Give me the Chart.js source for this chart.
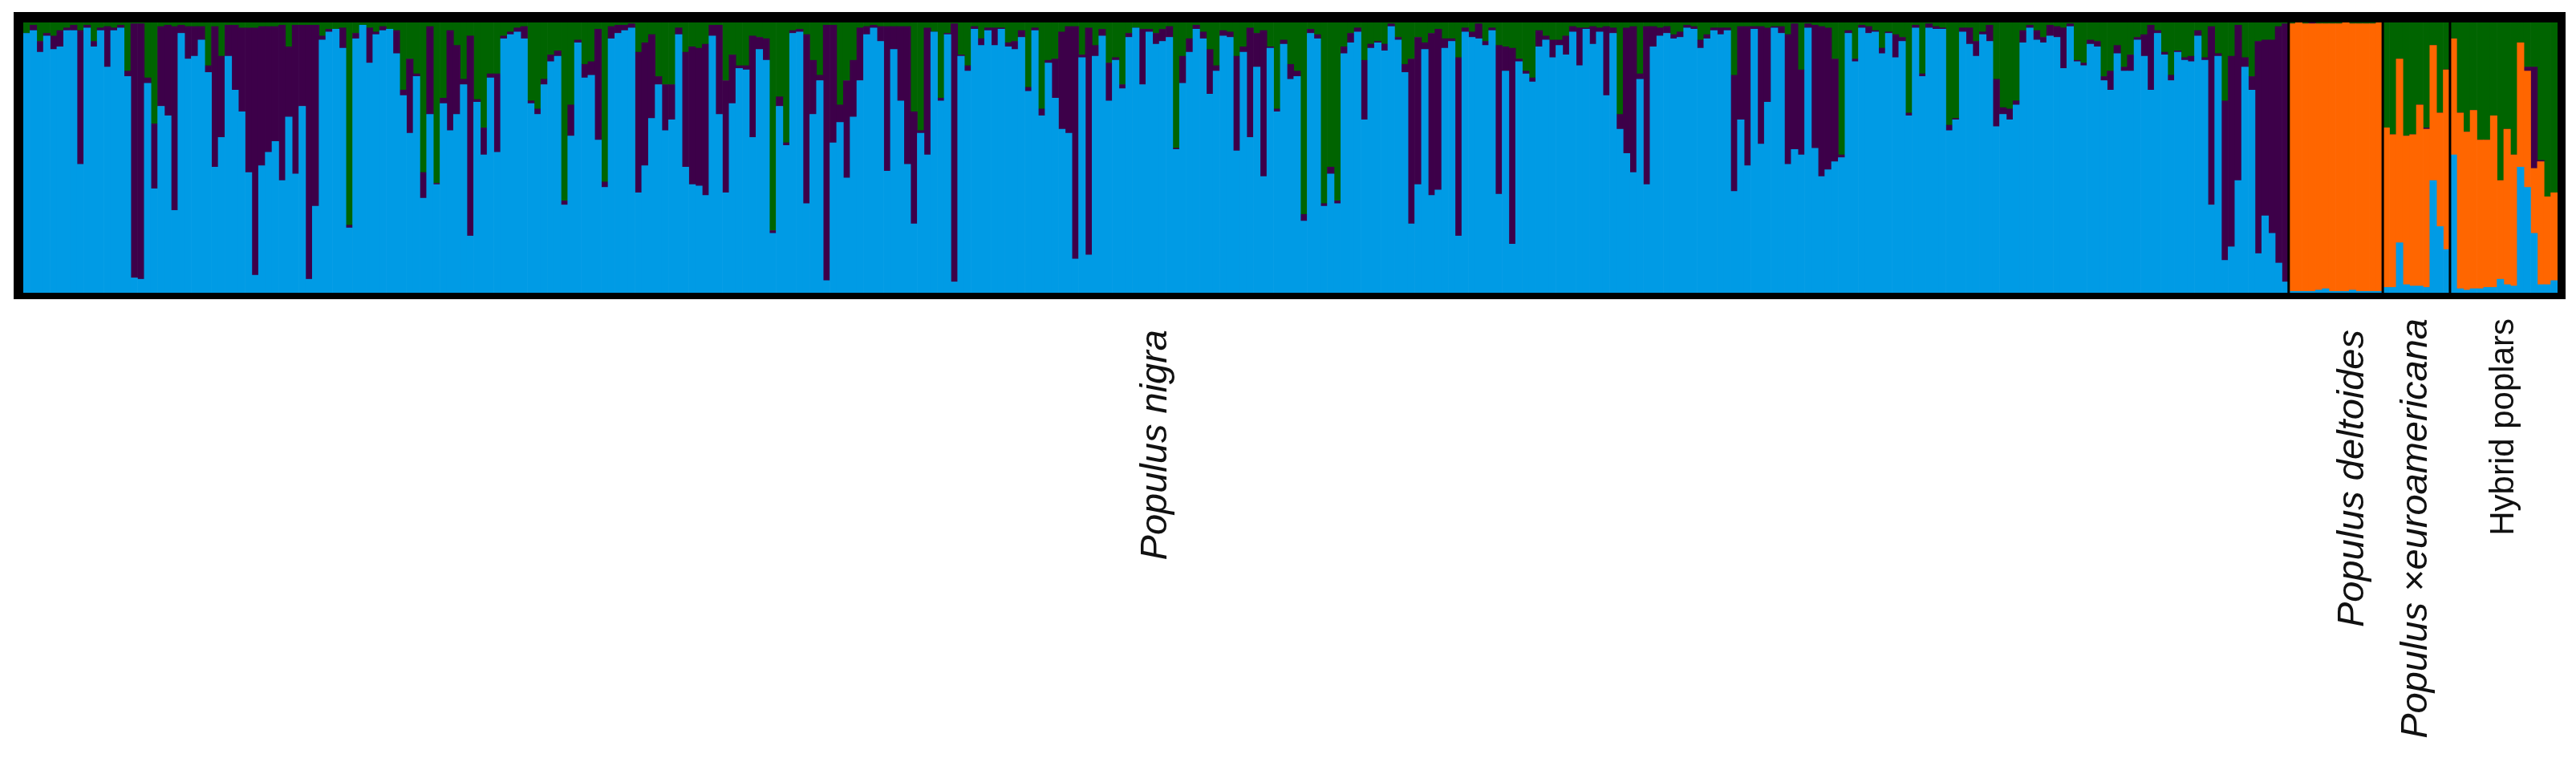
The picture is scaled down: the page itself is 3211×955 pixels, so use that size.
<!DOCTYPE html>
<html lang="en">
<head>
  <title>STRUCTURE plot - Populus</title>
  <script src="https://cdn.jsdelivr.net/npm/chart.js@4.4.0/dist/chart.umd.min.js"></script>
  <style>
    body { margin: 0; background: #fff; }
    canvas { display: block; }
  </style>
</head>
<body>
  <canvas id="structureChart" width="3211" height="955"></canvas>

  <script>
    // membership (%) per individual, left to right
    // cluster colours: blue (P. nigra), orange (P. deltoides), purple, green
    const nigraBlue = [
      96,97,89,95,90,91,97,97,47.5,98,91,97,83.5,97,98,80,5.5,5,77.5,38.5,69,65.5,30.5,96,86.5,87.5,93.5,81.5,46.5,57.5,87.5,75,67,44.5,6.5,47,52,56,41.5,65,44,69,5,32,
      93.5,96.5,97.5,90.5,24,94,99,85,95.5,97,97.5,88.5,73,59,80,35,66,40,70,60,66,77,21,70.5,51,79.5,52,94,95.5,96.5,94,70,66,77,85.5,87.5,32.5,58,92.5,79.5,80.5,
      56.5,39,94,96,97,98,37,47,64.5,77,60,64,95.5,46.5,40,39.5,36,95,66,37,70,83,82.5,57.5,90,86,22,69,54.5,96,96.5,33,66,78.5,4.5,55.5,63,42.5,65,78.5,95.5,
      98,93,45,90,71,47.5,25.5,59,51,96.5,71,95.5,4,87.5,82,97.5,91.5,97,91.5,97.5,91,90,94.5,74.5,97,65.5,85,72,60.5,59,12.5,87,14,87.5,95,71,86,75.5,94.5,98,
      77,96.5,92,93,94.5,53,77.5,89,97.5,94,73.5,82,95,94.5,52.5,89,57.5,83.5,43,90.5,67,92,79,80,26.5,96,94,32,44,33,88.5,92.5,96.5,64,90.5,92.5,89.5,98.5,93.5,81.5,25.5,
      40,90,36,38,90.5,93,21,96.5,94.5,94,91.5,97,36.5,82,18,85.5,81,78,91,93.5,87,91.5,88,96.5,84,97.5,92,96.5,73,96,60.5,51.5,44.5,79,40,91,95,96,94,94.5,
      98,97.5,90.5,94,97,95.5,97,37.5,64,47,97.5,55,70.5,98,96,47.5,53,51,98,53.5,43,45.5,48.5,50,96,85.5,98,96,96.5,88.5,96,87,93,65.5,98,80,98,97.5,97.5,60,64,
      96.5,92,87.5,95.5,93,61.5,66,64,69.5,92.5,98,93.5,92.5,95,94.5,83,98.5,85.5,84,92,91,78.5,75,88.5,82,82,93.5,87.5,75,96,88,78.5,89,86,85.5,95,86,32.5,87.5,
      12,17,41.5,83.5,75,14.5,28.5,22,11,4
    ];
    const nigraPurple = [
      0,2,4,1,5,6,1,2,49.5,1,2,1,15,1,1,2,94,94.5,2,24,29.5,33.5,68,3,12,11,5,2.5,52,30,11.5,24,31,53.5,91.5,51.5,46.5,42.5,57.5,26,55,30,94,67,
      1.5,1,0,7.5,1,2,0,13,1,1.5,0,8.5,2,27.5,1,9.5,32.5,0.5,2,37,25.5,2,74,1,10,1.5,29,1,1,1.5,4.5,1,2,2,2.5,2,1.5,11.5,1,5,5,
      41,2,4.5,3,2,1.5,52,45.5,31,3,17,13,2.5,42.5,51,51,56,4,33,41.5,18,1,1.5,37.5,4.5,8,1,3.5,1,1,1,62.5,20,2,94.5,43.5,6.5,36,21,19.5,3,
      1,5.5,53.5,8.5,27.5,51,41.5,1,47,0,1,0.5,95.5,0.5,2,1,2.5,1,6.5,0.5,1.5,3,2.5,1.5,1,2.5,1,14.5,36,39.5,86,1,84,4,2.5,14,1,1.5,1.5,0,
      20.5,1,4,4.5,4,0.5,10,5,1.5,2.5,16.5,2,2,2,35,2,40.5,12.5,54,0.5,1,1.5,5.5,2,2.5,1.5,1.5,1,2.5,1,2.5,3.5,1.5,22,1.5,0.5,2.5,1,1,3,61,
      54.5,2.5,60,59.5,3.5,1,66,1.5,2,5.5,1.5,1,55,9,72.5,1,1,1.5,6,1.5,6.5,2,7,2,14,0.5,6.5,1.5,25.5,2,5.5,46.5,54,2,58.5,7.5,3,2.5,1.5,2,
      1,1,3,1.5,1,2.5,1,43,34.5,51.5,1,43.5,27.5,0.5,2.5,48,46.5,31.5,1.5,45.5,55.5,52.5,38,1,1,1,1,2.5,0.5,2,0.5,8.5,1.5,1,1,1,1.5,1,0.5,2,0.5,
      1.5,6,5.5,1,6,17.5,2.5,4,1.5,4.5,1,3.5,2,4,4,15,1,0.5,1,1.5,2,1.5,7,3,1.5,6,1,8,24,1,1,2,0.5,1,2,2,1,66,1,
      59,70.5,57.5,3.5,5,78.5,65,71.5,87.5,95.5
    ];
    const nigraGreen = [
      4,1,7,4,5,3,2,1,3,1,7,2,1.5,2,1,18,0.5,0.5,20.5,37.5,1.5,1,1.5,1,1.5,1.5,1.5,16,1.5,12.5,1,1,2,2,2,1.5,1.5,1.5,1,9,1,1,1,1,
      5,2.5,2.5,2,75,4,1,2,3.5,1.5,2.5,3,25,13.5,19,55.5,1.5,59.5,28,3,8.5,21,5,28.5,39,19,19,5,3.5,2,1.5,29,32,21,12,10.5,66,30.5,6.5,15.5,14.5,
      2.5,59,1.5,1,1,0.5,11,7.5,4.5,20,23,23,2,11,9,9.5,8,1,1,21.5,12,16,16,5,5.5,6,77,27.5,44.5,3,2.5,4.5,14,19.5,1,1,30.5,21.5,14,2,1.5,
      1,1.5,1.5,1.5,1.5,1.5,33,40,2,3.5,28,4,0.5,12,16,1.5,6,2,2,2,7.5,7,3,24,2,32,14,13.5,3.5,1.5,1.5,12,2,8.5,2.5,15,13,23,4,2,
      2.5,2.5,4,2.5,1.5,46.5,12.5,6,1,3.5,10,16,3,3.5,12.5,9,2,4,3,9,32,6.5,15.5,18,71,2.5,4.5,67,53.5,66,9,4,2,14,8,7,8,0.5,5.5,15.5,13.5,
      5.5,7.5,4,2.5,6,6,13,2,3.5,0.5,7,2,8.5,9,9.5,13.5,18,20.5,3,5,6.5,6.5,5,1.5,2,2,1.5,2,1.5,2,34,2,1.5,19,1.5,1.5,2,1.5,4.5,3.5,
      1,1.5,6.5,4.5,2,2,2,19.5,1.5,1.5,1.5,1.5,2,1.5,1.5,4.5,0.5,17.5,0.5,1,1.5,2,13.5,49,3,13.5,1,1.5,3,9.5,3.5,4.5,5.5,33.5,1,19,0.5,1.5,2,38,35.5,
      2,2,7,3.5,1,21,31.5,32,29,3,1,3,5.5,1,1.5,2,0.5,14,15,6.5,7,20,18,8.5,16.5,12,5.5,4.5,1,3,11,19.5,10.5,13,12.5,3,13,1.5,11.5,
      29,12.5,1,13,20,7,6.5,6.5,1.5,0.5
    ];

    const deltBlue   = [0.5,0.5,0.5,0.5,1,1.5,0.5,0.5,0.5,1,0.5,0.5,0.5,0.5];
    const deltOrange = [99,99.5,99,99,98.5,98,99,99,99.5,98.5,99,99,99,99.5];
    const deltPurple = [0,0,0,0.5,0,0,0,0,0,0,0,0,0,0];
    const deltGreen  = [0.5,0,0.5,0,0.5,0.5,0.5,0.5,0,0.5,0.5,0.5,0.5,0];

    const euroBlue   = [2,2,18.5,3,2.5,2.5,2,41.5,24.5,16];
    const euroOrange = [59,56.5,68,55,56,67,58.5,50,42,66.5];
    const euroPurple = [0,0,0,0,0,0,0.5,0,0,0];
    const euroGreen  = [39,41.5,13.5,42,41.5,30.5,39,8.5,33.5,17.5];

    const hybBlue   = [51,1.5,1,1.5,1.5,2,2,5,3,2.5,46.5,39,22,3,3,4.5];
    const hybOrange = [43,65,58.5,66,55,54.5,63.5,36.5,57.5,48.5,46,43,24,45.5,32.5,32.5];
    const hybPurple = [0,0,0,0,0,0,0,0,0,0,0,1.5,37.5,0.5,0,0];
    const hybGreen  = [6,33.5,40.5,32.5,43.5,43.5,34.5,58.5,39.5,49,7.5,16.5,16.5,51,64.5,63];

    const groupNames = ['Populus nigra', 'Populus deltoides', 'Populus \u00d7euroamericana', 'Hybrid poplars'];
    const clusterColors = { blue: '#009be5', orange: '#ff6600', purple: '#3d0049', green: '#006400' };

    const groups = [
      { name: groupNames[0], italic: true,  size: 47, nudge: 0,  drop: 46, blue: nigraBlue, orange: null,       purple: nigraPurple, green: nigraGreen },
      { name: groupNames[1], italic: true,  size: 47, nudge: 21, drop: 46, blue: deltBlue,  orange: deltOrange, purple: deltPurple,  green: deltGreen },
      { name: groupNames[2], italic: true,  size: 47, nudge: 0,  drop: 32, blue: euroBlue,  orange: euroOrange, purple: euroPurple,  green: euroGreen },
      { name: groupNames[3], italic: false, size: 42, nudge: 0,  drop: 32, blue: hybBlue,   orange: hybOrange,  purple: hybPurple,   green: hybGreen }
    ];

    // stack the groups side by side; a cluster missing from a group gets no bar there
    const series = { blue: [], orange: [], purple: [], green: [] };
    groups.forEach(g => {
      g.count = g.blue.length;
      Object.keys(series).forEach(k => {
        const vals = g[k] || new Array(g.count).fill(null);
        series[k].push(...vals);
      });
    });
    const individuals = series.blue.map((_, i) => String(i + 1));

    // frame, group separators and the rotated group names
    const framePlugin = {
      id: 'framePlugin',
      afterDatasetsDraw(chart) {
        const ctx = chart.ctx;
        const a = chart.chartArea;
        const x = chart.scales.x;
        ctx.save();

        ctx.strokeStyle = '#000';
        ctx.lineWidth = 3;
        let start = 0;
        groups.forEach((g, i) => {
          const end = start + g.count - 1;
          if (i < groups.length - 1) {
            const px = (x.getPixelForValue(end) + x.getPixelForValue(end + 1)) / 2;
            ctx.beginPath();
            ctx.moveTo(px, a.top);
            ctx.lineTo(px, a.bottom);
            ctx.stroke();
          }
          g.center = (x.getPixelForValue(start) + x.getPixelForValue(end)) / 2;
          start = end + 1;
        });

        ctx.fillStyle = '#000';
        ctx.fillRect(a.left - 12, a.top - 13, a.width + 22, 13);
        ctx.fillRect(a.left - 12, a.bottom, a.width + 22, 8);
        ctx.fillRect(a.left - 12, a.top - 13, 12, a.height + 21);
        ctx.fillRect(a.right, a.top - 13, 10, a.height + 21);

        ctx.fillStyle = '#111';
        ctx.textAlign = 'right';
        ctx.textBaseline = 'middle';
        groups.forEach(g => {
          ctx.save();
          ctx.translate(g.center + g.nudge, a.bottom + g.drop);
          ctx.rotate(-Math.PI / 2);
          ctx.font = (g.italic ? 'italic ' : '') + g.size + 'px "Liberation Sans", Arial, sans-serif';
          ctx.fillText(g.name, 0, 0);
          ctx.restore();
        });
        ctx.restore();
      }
    };

    const makeSet = (key) => ({
      label: key,
      data: series[key],
      backgroundColor: clusterColors[key],
      borderWidth: 0,
      barPercentage: 1,
      categoryPercentage: 1
    });

    new Chart(document.getElementById('structureChart'), {
      type: 'bar',
      data: {
        labels: individuals,
        datasets: ['blue', 'orange', 'purple', 'green'].map(makeSet)
      },
      options: {
        responsive: false,
        animation: false,
        devicePixelRatio: 1,
        layout: { padding: { left: 29, right: 23, top: 28, bottom: 590 } },
        plugins: {
          legend: { display: false },
          tooltip: { enabled: false }
        },
        scales: {
          x: { stacked: true, display: false },
          y: { stacked: true, display: false, min: 0, max: 100 }
        }
      },
      plugins: [framePlugin]
    });
  </script>
</body>
</html>
